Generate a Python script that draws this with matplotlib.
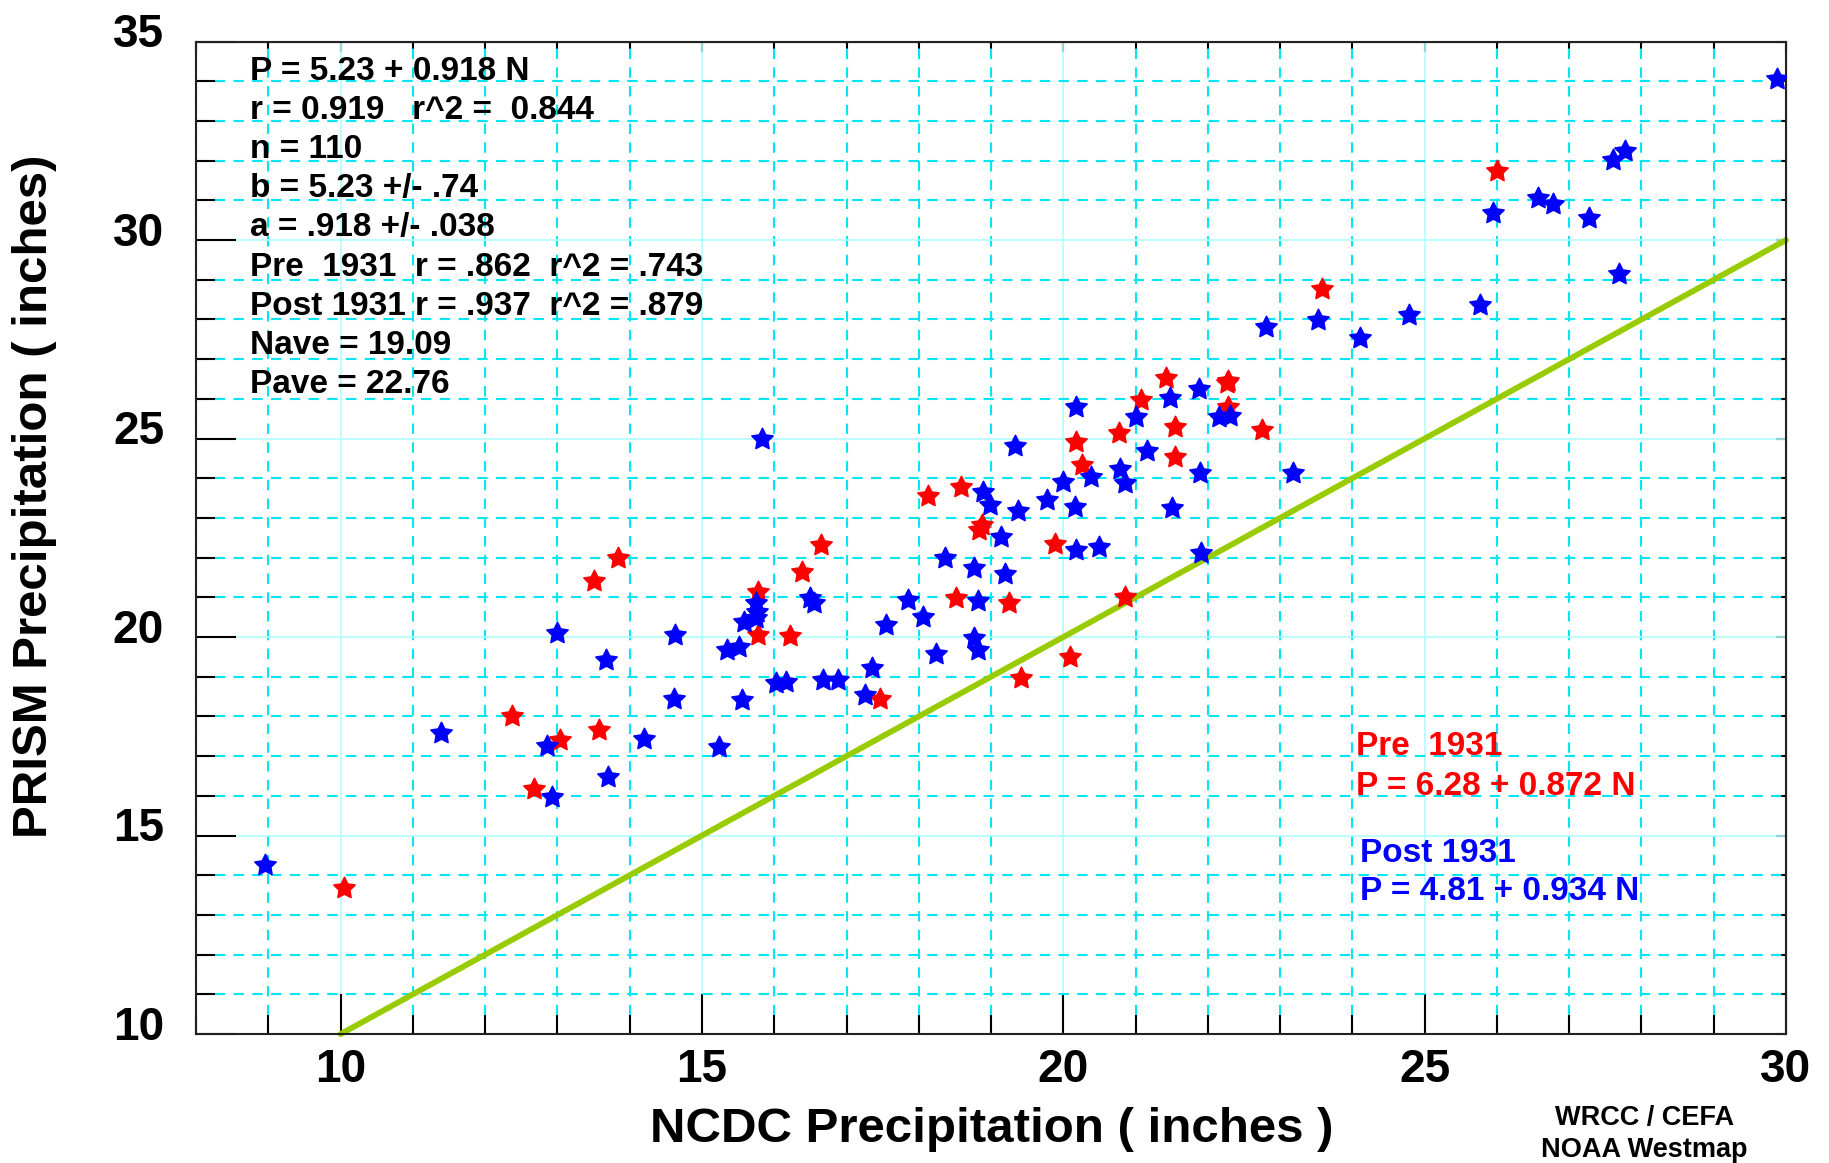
"""
plot.py
PRISM vs NCDC precipitation, pre / post 1931 (WRCC / CEFA Westmap style).
"""
import matplotlib
matplotlib.use("Agg")
import matplotlib.pyplot as plt
import matplotlib.transforms as mtransforms
from matplotlib.path import Path
from matplotlib.ticker import MultipleLocator

# ── Data ──────────────────────────────────────────────────────────────────────
pre_ncdc = [10.05, 12.37, 12.67, 13.04, 13.50, 13.57, 13.84, 15.78, 15.77, 16.22,
            16.38, 16.65, 17.47, 18.13, 18.52, 18.58, 18.84, 18.88, 19.25, 19.41,
            19.89, 20.09, 20.17, 20.26, 20.77, 20.85, 21.08, 21.42, 21.54, 21.54,
            22.28, 22.26, 22.28, 22.75, 23.58, 26.00]
pre_prism = [13.67, 18.01, 16.16, 17.40, 21.42, 17.66, 22.00, 21.14, 20.05, 20.03,
             21.63, 22.32, 18.44, 23.55, 20.98, 23.77, 22.69, 22.82, 20.85, 18.96,
             22.34, 19.49, 24.92, 24.33, 25.13, 21.00, 25.97, 26.52, 25.28, 24.53,
             26.46, 26.40, 25.79, 25.22, 28.77, 31.75]

post_ncdc = [8.95, 11.39, 12.86, 12.93, 13.00, 13.67, 13.70, 14.20, 14.63, 14.61,
             15.24, 15.35, 15.51, 15.55, 15.58, 15.75, 15.75, 15.76, 15.83, 16.02,
             16.16, 16.50, 16.55, 16.68, 16.88, 17.26, 17.35, 17.54, 17.85, 18.06,
             18.24, 18.36, 18.77, 18.82, 18.77, 18.82, 18.89, 18.98, 19.14, 19.19,
             19.33, 19.37, 19.77, 20.00, 20.17, 20.16, 20.18, 20.50, 20.38, 20.78,
             20.86, 21.00, 21.16, 21.48, 21.50, 21.88, 21.89, 21.91, 22.16, 22.31,
             22.80, 23.18, 23.53, 24.11, 24.79, 25.76, 25.94, 26.57, 26.77, 27.27,
             27.60, 27.77, 27.69, 29.88]
post_prism = [14.27, 17.58, 17.25, 15.97, 20.10, 19.42, 16.48, 17.43, 20.06, 18.43,
              17.22, 19.67, 19.74, 18.41, 20.38, 20.47, 20.85, 20.62, 25.00, 18.83,
              18.86, 20.98, 20.85, 18.93, 18.93, 18.54, 19.23, 20.30, 20.93, 20.51,
              19.57, 21.98, 21.73, 20.91, 19.97, 19.67, 23.66, 23.33, 22.53, 21.60,
              24.81, 23.18, 23.45, 23.91, 25.80, 23.28, 22.19, 22.26, 24.02, 24.23,
              23.87, 25.53, 24.69, 26.01, 23.24, 26.24, 24.14, 22.11, 25.53, 25.57,
              27.80, 24.12, 27.98, 27.52, 28.12, 28.36, 30.67, 31.05, 30.91, 30.55,
              32.02, 32.25, 29.14, 34.05]

one_to_one_x = [10, 30]
one_to_one_y = [10, 30]

stats_lines = [
    "P = 5.23 + 0.918 N",
    "r = 0.919   r^2 =  0.844",
    "n = 110",
    "b = 5.23 +/- .74",
    "a = .918 +/- .038",
    "Pre  1931  r = .862  r^2 = .743",
    "Post 1931 r = .937  r^2 = .879",
    "Nave = 19.09",
    "Pave = 22.76",
]
pre_label = ["Pre  1931", "P = 6.28 + 0.872 N"]
post_label = ["Post 1931", "P = 4.81 + 0.934 N"]

# ── Style ─────────────────────────────────────────────────────────────────────
RED = "#ff0000"
BLUE = "#0000ff"
GREEN = "#99cc00"
GRID_MAJOR = "#b0ffff"
GRID_MINOR = "#00e6f2"
TXT_SIZE = 24

plt.rcParams["font.family"] = ["Liberation Sans", "DejaVu Sans"]
plt.rcParams["font.weight"] = "bold"

STAR = Path.unit_regular_star(5, innerCircle=0.5)


def main():
    fig = plt.figure(figsize=(18.29, 11.63), dpi=100)
    ax = fig.add_axes([0.1072, 0.1109, 0.8693, 0.8534])

    ax.set_xlim(8, 30)
    ax.set_ylim(10, 35)
    ax.xaxis.set_major_locator(MultipleLocator(5))
    ax.xaxis.set_minor_locator(MultipleLocator(1))
    ax.yaxis.set_major_locator(MultipleLocator(5))
    ax.yaxis.set_minor_locator(MultipleLocator(1))

    ax.set_axisbelow(True)
    ax.grid(which="major", color=GRID_MAJOR, linewidth=1.2, linestyle="-")
    ax.grid(which="minor", color=GRID_MINOR, linewidth=1.5,
            linestyle=(0, (5, 4)))

    for spine in ax.spines.values():
        spine.set_linewidth(1.5)
        spine.set_color("#222222")

    ax.tick_params(axis="both", which="major", direction="in", length=29,
                   width=1.5, labelsize=33)
    ax.tick_params(axis="both", which="minor", direction="in", length=14,
                   width=1.5)
    ax.tick_params(axis="x", which="major", pad=10)
    ax.tick_params(axis="y", which="major", pad=23)

    # short ticks on top / right
    top = ax.secondary_xaxis("top")
    top.xaxis.set_major_locator(MultipleLocator(1))
    top.tick_params(direction="in", length=7, width=1.5, labeltop=False)
    right = ax.secondary_yaxis("right")
    right.yaxis.set_major_locator(MultipleLocator(1))
    right.tick_params(direction="in", length=7, width=1.5, labelright=False)

    # y tick labels sit a bit above their ticks
    shift = mtransforms.ScaledTranslation(0, 8 / 72, fig.dpi_scale_trans)
    for lab in ax.get_yticklabels():
        lab.set_transform(lab.get_transform() + shift)

    # 1:1 line
    ax.plot(one_to_one_x, one_to_one_y, color=GREEN, linewidth=4.2,
            solid_capstyle="round", clip_on=False, zorder=2)

    ax.plot(pre_ncdc, pre_prism, linestyle="none", marker=STAR,
            markersize=16, color=RED, markeredgewidth=1.2, zorder=3)
    ax.plot(post_ncdc, post_prism, linestyle="none", marker=STAR,
            markersize=16, color=BLUE, markeredgewidth=1.2, zorder=3)

    # stats block
    for i, line in enumerate(stats_lines):
        ax.text(8.75, 34.03 - i * 0.985, line, fontsize=TXT_SIZE,
                fontweight="bold", color="black", va="baseline", ha="left")

    ax.text(24.05, 17.03, pre_label[0], color=RED, fontsize=TXT_SIZE,
            fontweight="bold", va="baseline")
    ax.text(24.05, 16.02, pre_label[1], color=RED, fontsize=TXT_SIZE,
            fontweight="bold", va="baseline")
    ax.text(24.11, 14.33, post_label[0], color=BLUE, fontsize=TXT_SIZE,
            fontweight="bold", va="baseline")
    ax.text(24.11, 13.38, post_label[1], color=BLUE, fontsize=TXT_SIZE,
            fontweight="bold", va="baseline")

    fig.text(0.542, 0.029, "NCDC Precipitation ( inches )", fontsize=35.5,
             fontweight="bold", ha="center", va="center")
    fig.text(0.0191, 0.5735, "PRISM Precipitation ( inches)", fontsize=35.5,
             fontweight="bold", ha="center", va="center", rotation=90)
    fig.text(0.899, 1 - 1118 / 1163, "WRCC / CEFA", fontsize=19.5,
             fontweight="bold", ha="center", va="center")
    fig.text(0.899, 1 - 1150 / 1163, "NOAA Westmap", fontsize=19.5,
             fontweight="bold", ha="center", va="center")

    fig.savefig("out.png", dpi=100)
    plt.close(fig)


if __name__ == "__main__":
    main()
